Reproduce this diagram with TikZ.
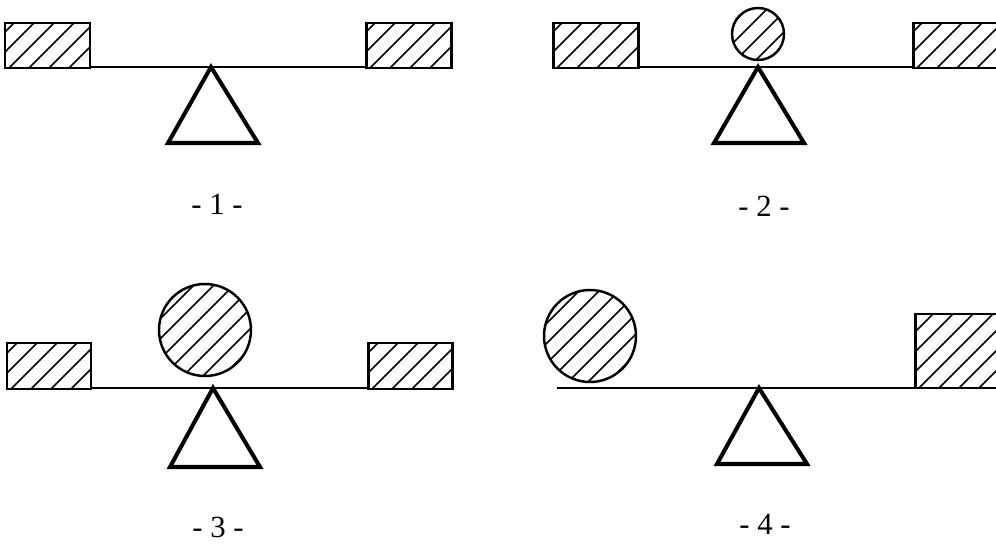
\documentclass[tikz,border=0pt]{standalone}
\usepackage{fontspec}
\setmainfont{Liberation Serif}

\tikzset{
  beam/.style={line width=1.6pt},
  fulcrum/.style={line width=2.3pt, line join=miter},
  hatchline/.style={line width=0.9pt},
  hatched/.style={fill=white, draw, path picture={
      \foreach \k in {-7,...,7}
        \draw[hatchline, shift={(path picture bounding box.south west)}]
          (\k*20+4,0) -- ++(170,-170);}},
  weight/.style={hatched, line width=1.7pt},
  ball/.style={hatched, line width=1.4pt},
  caption/.style={font=\fontsize{17.5}{20}\selectfont, inner sep=0pt}
}

\begin{document}
\begin{tikzpicture}[x=0.02cm, y=-0.02cm]
  \useasboundingbox (0,0) rectangle (996,544);
  \clip (0,0) rectangle (996,544);

  % panel 1
  \draw[beam] (5,67) -- (451,67);
  \draw[weight] (5,23) rectangle (90,68);
  \draw[weight] (366,23) rectangle (451,68);
  \draw[fulcrum] (211,67) -- (258,143) -- (168,143) -- cycle;
  \node[caption] (lab1) at (217,204) {- 1 -};

  % panel 2
  \draw[beam] (553,67) -- (1010,67);
  \draw[weight] (553,23) rectangle (638,68);
  \draw[weight] (913,23) rectangle (1005,68);
  \draw[ball] (758,34) circle (26);
  \draw[fulcrum] (758,67) -- (804,143) -- (714,143) -- cycle;
  \node[caption] (lab2) at (764,206) {- 2 -};

  % panel 3
  \draw[beam] (7,388) -- (452,388);
  \draw[weight] (7,343) rectangle (91,389);
  \draw[weight] (368,343) rectangle (452,389);
  \draw[ball] (205,330) circle (46);
  \draw[fulcrum] (213,388) -- (260,467) -- (170,467) -- cycle;
  \node[caption] (lab3) at (218,527) {- 3 -};

  % panel 4
  \draw[beam] (557,388) -- (1010,388);
  \draw[ball] (590,336) circle (46);
  \draw[weight] (915,314) rectangle (1005,388);
  \draw[fulcrum] (759,388) -- (807,464) -- (717,464) -- cycle;
  \node[caption] (lab4) at (765,524) {- 4 -};
\end{tikzpicture}
\end{document}
